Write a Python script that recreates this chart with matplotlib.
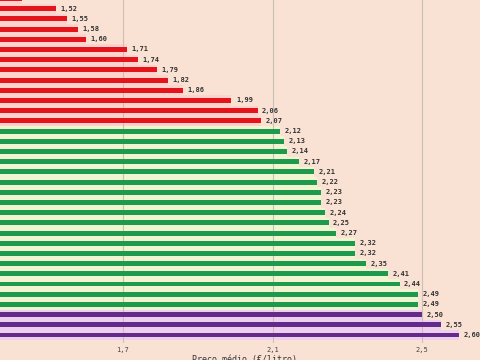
import numpy as np
import matplotlib.pyplot as plt

# values top -> bottom as they appear in the chart
values = [1.43, 1.52, 1.55, 1.58, 1.60, 1.71, 1.74, 1.79, 1.82, 1.86, 1.99, 2.06, 2.07,
          2.12, 2.13, 2.14, 2.17, 2.21, 2.22, 2.23, 2.23, 2.24, 2.25, 2.27, 2.32, 2.32,
          2.35, 2.41, 2.44, 2.49, 2.49,
          2.50, 2.55, 2.60]
groups = ["red"] * 13 + ["green"] * 18 + ["purple"] * 3

dark = {"red": "#e3151a", "green": "#1e9a4c", "purple": "#652a8c"}
light = {"red": "#ffd3cd", "green": "#f1f4d0", "purple": "#ecd0ec"}

xticks = [1.7, 2.1, 2.5]
xtick_labels = ["1,7", "2,1", "2,5"]

bg = "#f9e1d3"

fig = plt.figure(figsize=(4.8, 3.6), dpi=100)
fig.patch.set_facecolor(bg)
ax = fig.add_axes([0, 17 / 360, 1, 343 / 360])
ax.set_facecolor(bg)

n = len(values)
ypos = np.arange(n)[::-1]
ytop = 32.85

ax.barh(ypos, values, height=1.0, color=[light[g] for g in groups], zorder=1)
ax.barh(ypos, values, height=0.48, color=[dark[g] for g in groups], zorder=3)

for y, v in zip(ypos, values):
    if y > ytop - 0.3:
        continue
    ax.text(v + 0.012, y, f"{v:.2f}".replace(".", ","), va="center", ha="left",
            fontsize=5, fontweight="bold", family="DejaVu Sans Mono", color="#333333",
            zorder=4)

ax.set_xlim(1.371, 2.655)
ax.set_ylim(-0.78, ytop)

for x in xticks:
    ax.axvline(x, color="#cbbfb6", linewidth=0.8, zorder=2)

ax.set_xticks(xticks)
ax.set_xticklabels(xtick_labels, family="DejaVu Sans Mono", fontsize=5, color="#444444")
ax.tick_params(axis="x", length=0, pad=3)
ax.set_yticks([])
for s in ax.spines.values():
    s.set_visible(False)

fig.text(0.40, 5 / 360, "Preço médio (€/litro)", fontsize=6, family="DejaVu Sans Mono",
         color="#333333", va="top", ha="left")

fig.savefig("out.png", dpi=100, facecolor=bg)
